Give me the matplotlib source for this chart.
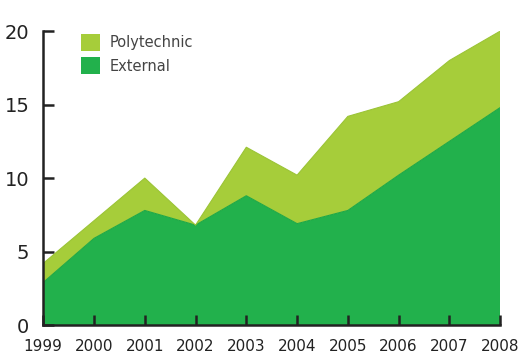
import matplotlib.pyplot as plt
import numpy as np

years = [1999, 2000, 2001, 2002, 2003, 2004, 2005, 2006, 2007, 2008]
external = [2.9, 5.9, 7.8, 6.8, 8.8, 6.9, 7.8, 10.2, 12.5, 14.8]
total = [4.2, 7.1, 10.0, 6.8, 12.1, 10.2, 14.2, 15.2, 18.0, 20.0]
polytechnic = [t - e for t, e in zip(total, external)]

light = '#a6cd3a'
dark = '#22b14c'

fig = plt.figure(figsize=(5.21, 3.58), dpi=100)
ax = fig.add_axes([0.083, 0.092, 0.877, 0.821])

ax.stackplot(years, external, polytechnic, colors=[dark, light],
             labels=['External', 'Polytechnic'], edgecolor='none')
ax.plot(years, external, color='#1ea846', lw=0.8)
ax.plot(years, total, color='#9bc436', lw=0.8)

ax.set_xlim(1999, 2008)
ax.set_ylim(0, 20)
ax.set_xticks(years)
ax.set_yticks([0, 5, 10, 15, 20])

for s in ['top', 'right']:
    ax.spines[s].set_visible(False)
for s in ['left', 'bottom']:
    ax.spines[s].set_linewidth(1.8)
    ax.spines[s].set_color('#222222')
    ax.spines[s].set_zorder(5)

ax.tick_params(axis='y', direction='in', length=8, width=1.8, labelsize=14,
               pad=10, colors='#222222')
ax.tick_params(axis='x', direction='in', length=7, width=1.8, labelsize=11,
               pad=10, colors='#222222')

h, l = ax.get_legend_handles_labels()
ax.legend(h[::-1], l[::-1], loc='upper left', bbox_to_anchor=(0.055, 1.035),
          frameon=False, fontsize=10.5, handlelength=1.3, handleheight=1.4,
          handletextpad=0.6, labelspacing=0.45, labelcolor='#444444')

fig.savefig('out.png', dpi=100)
